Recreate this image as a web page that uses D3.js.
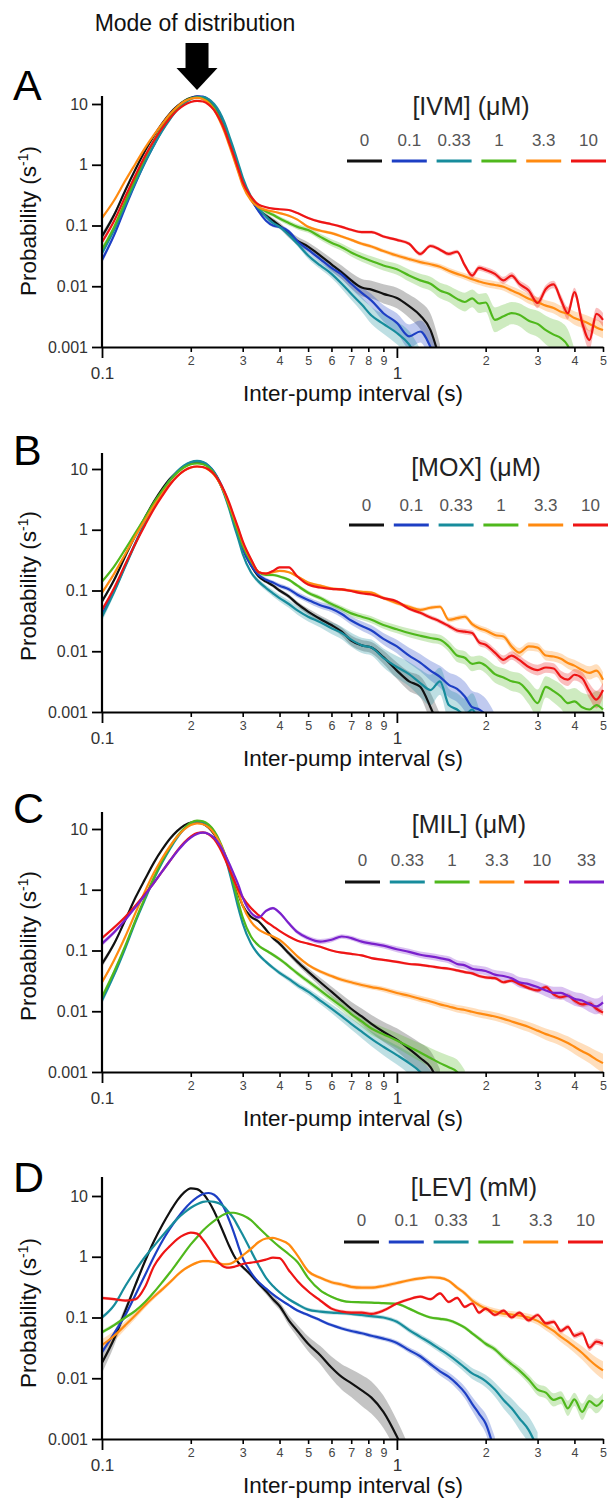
<!DOCTYPE html>
<html><head><meta charset="utf-8">
<script src="https://cdn.jsdelivr.net/npm/d3@7"></script>
<style>
body{margin:0;background:#fff}
svg{display:block}
text{font-family:"Liberation Sans",Arial,Helvetica,sans-serif}
</style>
</head><body>
<svg id="chart" width="608" height="1504"></svg>
<script>
// ---------- shared x grid (inter-pump interval, s) ----------
const X = [0.10,0.11,0.12,0.13,0.14,0.15,0.16,0.17,0.18,0.19,
0.20,0.21,0.22,0.23,0.24,0.25,0.26,0.27,0.28,0.29,
0.30,0.32,0.34,0.36,0.38,0.40,0.43,0.46,0.50,0.55,
0.60,0.65,0.70,0.76,0.82,0.90,1.0,1.1,1.2,1.3,
1.4,1.5,1.6,1.7,1.8,1.9,2.0,2.15,2.3,2.45,
2.6,2.8,3.0,3.2,3.4,3.6,3.8,4.0,4.25,4.5,
4.75,5.0];

const Y_TICKS = [0.001,0.01,0.1,1,10];
const Y_TICK_LABELS = ["0.001","0.01","0.1","1","10"];
const X_MINOR = [0.2,0.3,0.4,0.5,0.6,0.7,0.8,0.9,2,3,4,5];
const X_MINOR_LABELS = ["2","3","4","5","6","7","8","9","2","3","4","5"];
const X_MAJOR = [0.1,1];
const X_MAJOR_LABELS = ["0.1","1"];

// ---------- Panel A: IVM (µM) ----------
const IVM_LABELS = ["0","0.1","0.33","1","3.3","10"];
const IVM_0 = [0.066,0.15,0.38,0.85,1.7,3.0,4.8,7.0,9.2,11.2,
12.6,13.2,12.6,11.0,8.8,6.2,4.0,2.4,1.4,0.85,
0.52,0.27,0.18,0.145,0.12,0.1,0.072,0.056,0.045,0.032,
0.023,0.017,0.0125,0.0095,0.0088,0.0075,0.0064,0.0047,0.0033,0.0019,
0.0006];
const IVM_0_1 = [0.027,0.07,0.2,0.5,1.1,2.1,3.7,5.8,8.2,10.5,
12.3,13.4,13.2,11.8,9.5,6.8,4.4,2.6,1.5,0.9,
0.55,0.28,0.17,0.12,0.1,0.095,0.08,0.055,0.04,0.028,
0.02,0.0155,0.011,0.0078,0.0058,0.0036,0.0025,0.0015,0.0018,0.001,
0.0004];
const IVM_0_33 = [0.035,0.085,0.22,0.52,1.1,2.1,3.6,5.6,8.0,10.3,
12.0,13.0,13.0,12.0,10.0,7.5,5.0,3.0,1.8,1.05,
0.62,0.3,0.19,0.14,0.11,0.095,0.07,0.05,0.032,0.022,
0.016,0.011,0.0075,0.005,0.0033,0.0024,0.0017,0.0011,0.0005];
const IVM_1 = [0.04,0.095,0.25,0.6,1.3,2.5,4.2,6.4,8.8,11.0,
12.4,12.8,12.2,10.8,8.6,6.0,3.9,2.3,1.35,0.8,
0.5,0.28,0.2,0.17,0.15,0.13,0.11,0.095,0.084,0.065,
0.052,0.044,0.036,0.03,0.026,0.022,0.019,0.015,0.0125,0.011,
0.0085,0.0075,0.0062,0.0055,0.0063,0.0052,0.0054,0.0028,0.0032,0.0036,
0.0034,0.0027,0.0024,0.0019,0.0016,0.0014,0.00105,0.0005];
const IVM_3_3 = [0.133,0.26,0.55,1.05,1.9,3.1,4.7,6.8,9.0,11.0,
12.2,12.6,12.0,10.4,8.0,5.5,3.5,2.1,1.25,0.75,
0.46,0.26,0.2,0.18,0.17,0.16,0.145,0.125,0.095,0.082,
0.075,0.066,0.058,0.05,0.045,0.038,0.032,0.028,0.025,0.023,
0.021,0.018,0.016,0.0145,0.013,0.012,0.0112,0.0105,0.0098,0.0085,
0.0075,0.0062,0.0055,0.0048,0.0044,0.0038,0.0035,0.003,0.0027,0.0024,
0.0021,0.0019];
const IVM_10 = [0.053,0.12,0.3,0.68,1.4,2.5,4.0,5.9,7.9,9.6,
10.8,11.3,11.0,9.8,7.9,5.7,3.8,2.3,1.4,0.85,
0.52,0.3,0.22,0.2,0.19,0.185,0.18,0.16,0.133,0.115,
0.105,0.095,0.085,0.078,0.078,0.066,0.058,0.05,0.034,0.046,
0.04,0.034,0.037,0.022,0.015,0.02,0.0186,0.016,0.0125,0.015,
0.011,0.0085,0.0053,0.009,0.0107,0.006,0.0036,0.008,0.0025,0.0013,
0.0035,0.0028];
const IVM_SEM = [0.012,0.007,0.007,0.01,0.005,0.005];

// ---------- Panel B: MOX (µM) ----------
const MOX_LABELS = ["0","0.1","0.33","1","3.3","10"];
const MOX_0 = [0.066,0.15,0.37,0.82,1.6,2.9,4.7,6.9,9.0,11.0,
12.3,12.8,12.3,10.8,8.6,6.1,4.0,2.4,1.4,0.82,
0.5,0.26,0.17,0.14,0.12,0.1,0.08,0.06,0.045,0.034,
0.027,0.021,0.015,0.0125,0.0115,0.008,0.0048,0.0032,0.0026,0.0012,
0.0005];
const MOX_0_1 = [0.04,0.1,0.26,0.62,1.3,2.5,4.2,6.5,9.0,11.2,
12.8,13.4,12.9,11.3,9.0,6.4,4.2,2.5,1.45,0.85,
0.5,0.26,0.18,0.15,0.135,0.12,0.105,0.085,0.07,0.057,
0.05,0.041,0.032,0.026,0.022,0.016,0.012,0.0085,0.0065,0.0048,
0.0038,0.0028,0.0024,0.0018,0.0012,0.0011,0.0009,0.0005];
const MOX_0_33 = [0.037,0.095,0.25,0.6,1.3,2.5,4.3,6.6,9.2,11.5,
13.0,13.6,13.0,11.3,8.8,6.1,3.8,2.2,1.2,0.7,
0.4,0.2,0.14,0.11,0.09,0.075,0.06,0.047,0.037,0.03,
0.024,0.02,0.0155,0.0125,0.0115,0.0078,0.0055,0.0042,0.003,0.0023,
0.0032,0.0013,0.0011,0.0009,0.0011,0.0006];
const MOX_1 = [0.14,0.25,0.48,0.9,1.6,2.8,4.4,6.5,8.7,10.7,
12.0,12.4,12.0,10.6,8.5,6.1,4.0,2.4,1.45,0.88,
0.55,0.3,0.2,0.18,0.18,0.17,0.15,0.12,0.092,0.075,
0.06,0.05,0.042,0.037,0.033,0.027,0.023,0.02,0.018,0.0165,
0.0155,0.012,0.0085,0.0078,0.0062,0.0065,0.0058,0.0042,0.0037,0.0032,
0.003,0.0021,0.0014,0.0026,0.0022,0.0018,0.0014,0.0015,0.0012,0.0011,
0.0013,0.0011];
const MOX_3_3 = [0.092,0.19,0.4,0.8,1.45,2.5,3.9,5.7,7.6,9.4,
10.6,11.0,10.7,9.7,8.0,6.0,4.1,2.6,1.6,1.0,
0.62,0.32,0.2,0.19,0.2,0.21,0.2,0.17,0.135,0.12,
0.108,0.104,0.1,0.095,0.092,0.075,0.062,0.054,0.048,0.052,
0.054,0.033,0.035,0.037,0.028,0.024,0.022,0.0185,0.0175,0.012,
0.0095,0.012,0.0115,0.0085,0.0082,0.0075,0.0064,0.0058,0.0049,0.0044,
0.0048,0.0034];
const MOX_10 = [0.048,0.11,0.27,0.6,1.2,2.2,3.6,5.5,7.6,9.4,
10.6,11.0,10.8,9.8,8.2,6.2,4.3,2.8,1.7,1.05,
0.65,0.33,0.2,0.19,0.21,0.24,0.24,0.17,0.125,0.112,
0.106,0.104,0.098,0.09,0.086,0.075,0.066,0.05,0.043,0.036,
0.031,0.026,0.022,0.021,0.02,0.014,0.0128,0.0095,0.0072,0.0085,
0.0072,0.0055,0.0049,0.0054,0.0052,0.0038,0.0034,0.0041,0.0036,0.0022,
0.0016,0.0023];
const MOX_SEM = [0.008,0.01,0.012,0.008,0.006,0.005];

// ---------- Panel C: MIL (µM) ----------
const MIL_LABELS = ["0","0.33","1","3.3","10","33"];
const MIL_0 = [0.06,0.13,0.32,0.75,1.5,2.8,4.6,6.9,9.3,11.5,
12.8,13.0,12.2,10.5,8.2,5.8,3.8,2.3,1.4,0.85,
0.55,0.36,0.3,0.22,0.16,0.13,0.09,0.065,0.045,0.03,
0.021,0.015,0.011,0.0082,0.0062,0.0046,0.0034,0.0024,0.0017,0.0012,
0.0006];
const MIL_0_33 = [0.015,0.04,0.11,0.3,0.7,1.5,2.8,4.7,7.2,10.0,
12.3,13.4,13.0,11.5,9.0,6.2,3.8,2.0,1.0,0.5,
0.28,0.13,0.085,0.065,0.052,0.043,0.034,0.027,0.021,0.015,
0.011,0.0082,0.0062,0.0046,0.0035,0.0026,0.0019,0.0014,0.001,0.0006];
const MIL_1 = [0.017,0.045,0.12,0.32,0.75,1.6,3.0,5.0,7.6,10.3,
12.7,13.8,13.4,11.8,9.3,6.5,4.1,2.3,1.2,0.62,
0.35,0.17,0.12,0.1,0.085,0.072,0.055,0.042,0.031,0.022,
0.016,0.012,0.009,0.0068,0.0052,0.0042,0.0033,0.0026,0.0021,0.0017,
0.0014,0.0012,0.001,0.0006];
const MIL_3_3 = [0.03,0.07,0.17,0.42,0.95,1.9,3.3,5.2,7.5,9.8,
11.6,12.4,12.0,10.6,8.5,6.1,4.0,2.5,1.5,0.9,
0.55,0.3,0.22,0.19,0.17,0.15,0.11,0.08,0.058,0.045,
0.038,0.033,0.03,0.027,0.025,0.023,0.02,0.018,0.016,0.0145,
0.013,0.012,0.011,0.0105,0.0098,0.0092,0.0088,0.0082,0.0075,0.0068,
0.0062,0.0055,0.0048,0.0042,0.0038,0.0034,0.003,0.0026,0.0022,0.0019,
0.0016,0.0014];
const MIL_10 = [0.16,0.24,0.36,0.55,0.85,1.3,2.0,3.0,4.4,6.0,
7.5,8.6,8.8,8.2,6.8,5.0,3.4,2.2,1.45,1.0,
0.75,0.5,0.38,0.3,0.25,0.21,0.17,0.145,0.13,0.115,
0.1,0.092,0.088,0.083,0.075,0.07,0.065,0.06,0.058,0.055,
0.052,0.05,0.047,0.044,0.042,0.038,0.036,0.035,0.03,0.032,
0.028,0.024,0.022,0.025,0.019,0.017,0.018,0.015,0.013,0.0135,
0.011,0.0095];
const MIL_33 = [0.13,0.2,0.32,0.52,0.82,1.3,2.0,3.0,4.3,5.8,
7.2,8.3,8.7,8.3,7.2,5.6,4.0,2.7,1.8,1.2,
0.75,0.42,0.35,0.45,0.5,0.42,0.28,0.2,0.16,0.14,
0.15,0.17,0.16,0.14,0.13,0.12,0.105,0.095,0.085,0.08,
0.075,0.07,0.06,0.057,0.05,0.048,0.046,0.04,0.038,0.035,
0.03,0.028,0.025,0.022,0.02,0.02,0.018,0.016,0.015,0.013,
0.012,0.014];
const MIL_SEM = [0.01,0.006,0.006,0.005,0.004,0.012];

// ---------- Panel D: LEV (mM) ----------
const LEV_LABELS = ["0","0.1","0.33","1","3.3","10"];
const LEV_0 = [0.018,0.045,0.13,0.35,0.85,1.8,3.3,5.5,8.5,11.5,
13.4,13.0,11.0,8.2,5.6,3.6,2.3,1.5,1.05,0.8,
0.68,0.5,0.36,0.27,0.2,0.155,0.09,0.06,0.037,0.024,
0.015,0.0105,0.0083,0.0063,0.0048,0.0028,0.0011,0.0004];
const LEV_0_1 = [0.027,0.055,0.11,0.24,0.5,1.0,1.8,2.9,4.3,6.0,
7.8,9.5,10.8,11.2,10.5,8.6,6.2,4.0,2.5,1.5,
0.95,0.55,0.38,0.3,0.24,0.2,0.16,0.13,0.11,0.09,
0.075,0.066,0.06,0.055,0.05,0.045,0.038,0.029,0.023,0.017,
0.013,0.0105,0.008,0.0058,0.0038,0.0026,0.0018,0.0006];
const LEV_0_33 = [0.1,0.16,0.33,0.6,1.0,1.5,2.2,3.1,4.2,5.3,
6.4,7.3,8.0,8.2,8.0,7.5,6.6,5.3,4.2,3.1,
2.3,1.25,0.72,0.45,0.33,0.26,0.2,0.165,0.135,0.125,
0.12,0.118,0.115,0.11,0.105,0.1,0.085,0.062,0.048,0.038,
0.03,0.024,0.019,0.015,0.012,0.0105,0.009,0.0065,0.0044,0.0032,
0.0022,0.0014,0.0007];
const LEV_1 = [0.057,0.075,0.1,0.13,0.18,0.26,0.38,0.55,0.8,1.15,
1.6,2.1,2.7,3.3,3.9,4.5,5.0,5.3,5.3,5.1,
4.8,4.0,3.0,2.3,1.8,1.45,1.1,0.82,0.45,0.28,
0.22,0.19,0.18,0.178,0.176,0.172,0.168,0.14,0.115,0.1,
0.095,0.09,0.08,0.068,0.055,0.045,0.037,0.03,0.022,0.017,
0.0135,0.0095,0.0065,0.0058,0.0044,0.0048,0.0032,0.0045,0.0028,0.0042,
0.0035,0.0044];
const LEV_3_3 = [0.035,0.05,0.075,0.11,0.16,0.22,0.29,0.38,0.5,0.62,
0.72,0.8,0.85,0.85,0.82,0.78,0.75,0.76,0.82,0.92,
1.05,1.35,1.75,2.0,2.05,1.9,1.6,1.05,0.58,0.45,
0.38,0.35,0.32,0.31,0.31,0.33,0.37,0.41,0.44,0.46,
0.45,0.4,0.31,0.25,0.19,0.16,0.14,0.125,0.116,0.112,
0.108,0.1,0.088,0.072,0.06,0.048,0.04,0.033,0.026,0.02,
0.016,0.0135];
const LEV_10 = [0.21,0.2,0.19,0.2,0.32,0.7,1.1,1.5,1.95,2.3,
2.5,2.4,1.9,1.4,1.0,0.78,0.68,0.66,0.68,0.72,
0.76,0.8,0.84,0.9,0.97,0.95,0.6,0.4,0.27,0.19,
0.14,0.125,0.12,0.12,0.115,0.13,0.17,0.2,0.22,0.2,
0.25,0.18,0.21,0.15,0.17,0.12,0.14,0.11,0.13,0.1,
0.12,0.09,0.11,0.08,0.085,0.06,0.07,0.05,0.055,0.032,
0.04,0.037];
const LEV_SEM = [0.02,0.006,0.008,0.006,0.015,0.008];

// ---------- colours ----------
const C_BLACK="#111111", C_BLUE="#1d3fc4", C_TEAL="#178c9c", C_GREEN="#4fb81c",
      C_ORANGE="#ff8a10", C_RED="#ee1515", C_PURPLE="#7a20cc";

const panels = [
 {letter:"A", title:"[IVM] (\u03bcM)", labels:IVM_LABELS, sem:IVM_SEM,
  series:[IVM_0,IVM_0_1,IVM_0_33,IVM_1,IVM_3_3,IVM_10],
  colors:[C_BLACK,C_BLUE,C_TEAL,C_GREEN,C_ORANGE,C_RED],
  base:347, top:96, letterY:100, legTitleY:115, legTitleX:471, legNumY:146, legSegY:161, legX0:347},
 {letter:"B", title:"[MOX] (\u03bcM)", labels:MOX_LABELS, sem:MOX_SEM,
  series:[MOX_0,MOX_0_1,MOX_0_33,MOX_1,MOX_3_3,MOX_10],
  colors:[C_BLACK,C_BLUE,C_TEAL,C_GREEN,C_ORANGE,C_RED],
  base:712, top:453, letterY:465, legTitleY:476, legTitleX:476, legNumY:511, legSegY:525, legX0:349},
 {letter:"C", title:"[MIL] (\u03bcM)", labels:MIL_LABELS, sem:MIL_SEM,
  series:[MIL_0,MIL_0_33,MIL_1,MIL_3_3,MIL_10,MIL_33],
  colors:[C_BLACK,C_TEAL,C_GREEN,C_ORANGE,C_RED,C_PURPLE],
  base:1072, top:812, letterY:823, legTitleY:833, legTitleX:469, legNumY:866, legSegY:882, legX0:345},
 {letter:"D", title:"[LEV] (mM)", labels:LEV_LABELS, sem:LEV_SEM,
  series:[LEV_0,LEV_0_1,LEV_0_33,LEV_1,LEV_3_3,LEV_10],
  colors:[C_BLACK,C_BLUE,C_TEAL,C_GREEN,C_ORANGE,C_RED],
  base:1439, top:1177, letterY:1192, legTitleY:1196, legTitleX:474, legNumY:1226, legSegY:1242, legX0:344}
];

const svg = d3.select("#chart");
const x = d3.scaleLog().domain([0.1,5]).range([102,603]);
const FONT = '"Liberation Sans",Arial,Helvetica,sans-serif';

// Mode of distribution annotation
svg.append("text").attr("x",195).attr("y",31).attr("text-anchor","middle")
  .attr("font-size",23).attr("fill","#111").text("Mode of distribution");
const ax = x(0.21);
svg.append("rect").attr("x",ax-11.5).attr("y",43).attr("width",23).attr("height",26).attr("fill","#000");
svg.append("path").attr("d",`M${ax-20.5},68 L${ax+20.5},68 L${ax},90 Z`).attr("fill","#000");

panels.forEach(p => {
  const y = d3.scaleLog().domain([0.001,10]).range([p.base, p.base-243]);
  const g = svg.append("g");
  const cid = "clip"+p.letter;
  svg.append("clipPath").attr("id",cid).append("rect")
    .attr("x",102).attr("y",p.top-20).attr("width",506).attr("height",p.base-p.top+20);
  const plot = g.append("g").attr("clip-path",`url(#${cid})`);

  const data = p.series.map((s,k) => X.map((t,i) => {
    const v = s[i];
    const e = v!=null ? Math.min(0.85, p.sem[k]*Math.sqrt(10/v)) : 0;
    return {x:t, y:v, e:e};
  }));

  const area = d3.area().defined(d=>d.y!=null)
    .x(d=>x(d.x)).y0(d=>y(d.y/(1+d.e))).y1(d=>y(d.y*(1+d.e)))
    .curve(d3.curveMonotoneX);
  const line = d3.line().defined(d=>d.y!=null)
    .x(d=>x(d.x)).y(d=>y(d.y)).curve(d3.curveMonotoneX);

  data.forEach((d,k) => {
    const isBlack = p.colors[k]===C_BLACK;
    plot.append("path").attr("d",area(d))
      .attr("fill", isBlack ? "#8a8a8a" : p.colors[k])
      .attr("fill-opacity", isBlack ? 0.5 : 0.28);
  });
  data.forEach((d,k) => {
    plot.append("path").attr("d",line(d)).attr("fill","none")
      .attr("stroke",p.colors[k]).attr("stroke-width",2.2)
      .attr("stroke-linejoin","round");
  });

  // y axis
  const yAxis = d3.axisLeft(y).tickValues(Y_TICKS)
    .tickFormat((d,i)=>Y_TICK_LABELS[i]).tickSize(10).tickPadding(4).tickSizeOuter(0);
  const yg = g.append("g").attr("transform","translate(102,0)").call(yAxis);
  yg.select(".domain").remove();
  yg.selectAll(".tick line").attr("stroke","#000").attr("stroke-width",1.8);
  yg.selectAll(".tick text").attr("font-size",16).attr("fill","#333").attr("font-family",FONT);
  g.append("line").attr("x1",102).attr("x2",102).attr("y1",p.top).attr("y2",p.base+1)
    .attr("stroke","#000").attr("stroke-width",2.2);

  // x axis: minor ticks + domain line
  const xMinor = d3.axisBottom(x).tickValues(X_MINOR)
    .tickFormat((d,i)=>X_MINOR_LABELS[i]).tickSize(5).tickPadding(4).tickSizeOuter(0);
  const xg = g.append("g").attr("transform",`translate(0,${p.base})`).call(xMinor);
  xg.select(".domain").attr("stroke","#000").attr("stroke-width",2.2);
  xg.selectAll(".tick line").attr("stroke","#000").attr("stroke-width",1.6);
  xg.selectAll(".tick text").attr("font-size",12.5).attr("fill","#444").attr("font-family",FONT);
  const xMajor = d3.axisBottom(x).tickValues(X_MAJOR)
    .tickFormat((d,i)=>X_MAJOR_LABELS[i]).tickSize(11).tickPadding(9).tickSizeOuter(0);
  const xg2 = g.append("g").attr("transform",`translate(0,${p.base})`).call(xMajor);
  xg2.select(".domain").remove();
  xg2.selectAll(".tick line").attr("stroke","#000").attr("stroke-width",1.8);
  xg2.selectAll(".tick text").attr("font-size",17).attr("fill","#333").attr("font-family",FONT);

  // axis titles
  g.append("text").attr("x",353).attr("y",p.base+54).attr("text-anchor","middle")
    .attr("font-size",22.5).attr("fill","#111").text("Inter-pump interval (s)");
  const yl = g.append("text").attr("transform",`translate(36,${p.base-126}) rotate(-90)`)
    .attr("text-anchor","middle").attr("font-size",22.5).attr("fill","#111");
  yl.append("tspan").text("Probability (s");
  yl.append("tspan").attr("font-size",14).attr("dy",-8).text("-1");
  yl.append("tspan").attr("dy",8).text(")");

  // panel letter
  g.append("text").attr("x",13).attr("y",p.letterY).attr("font-size",43)
    .attr("fill","#000").text(p.letter);

  // legend
  g.append("text").attr("x",p.legTitleX).attr("y",p.legTitleY).attr("text-anchor","middle")
    .attr("font-size",25).attr("fill","#222").text(p.title);
  p.labels.forEach((lab,k) => {
    const x0 = p.legX0 + k*44.8;
    g.append("line").attr("x1",x0).attr("x2",x0+35).attr("y1",p.legSegY).attr("y2",p.legSegY)
      .attr("stroke",p.colors[k]).attr("stroke-width",3.2);
    g.append("text").attr("x",x0+17.5).attr("y",p.legNumY).attr("text-anchor","middle")
      .attr("font-size",17).attr("fill","#555").text(lab);
  });
});
</script>
</body></html>
